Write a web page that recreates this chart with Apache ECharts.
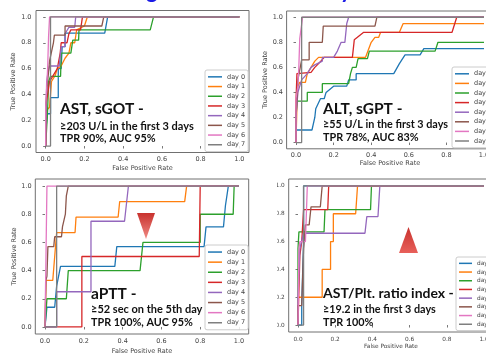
<!DOCTYPE html>
<html><head><meta charset="utf-8">
<script src="https://cdn.jsdelivr.net/npm/echarts@6/dist/echarts.min.js"></script>
<style>html,body{margin:0;padding:0;background:#fff}#c{width:486px;height:354px}</style>
</head><body><div id="c"></div>
<script>
const days = ['day 0','day 1','day 2','day 3','day 4','day 5','day 6','day 7'];
const daysU = ['day_0','day_1','day_2','day_3','day_4','day_5','day_6','day_7'];
const colors = ['#1f77b4','#ff7f0e','#2ca02c','#d62728','#9467bd','#8c564b','#e377c2','#7f7f7f'];
const ticks = [0,0.2,0.4,0.6,0.8,1.0];

// Panel 1: AST, sGOT
const astCurves = [
 [[0,0],[0,0.125],[0.01,0.125],[0.01,0.25],[0.025,0.25],[0.025,0.375],[0.065,0.375],[0.065,0.6],[0.08,0.6],[0.085,0.77],[0.1,0.77],[0.1,0.875],[0.305,0.875],[0.32,1],[1,1]],
 [[0,0],[0,0.27],[0.02,0.3],[0.03,0.5],[0.05,0.55],[0.06,0.6],[0.08,0.62],[0.1,0.68],[0.12,0.72],[0.13,0.8],[0.15,0.8],[0.16,0.9],[0.2,0.93],[0.215,1],[1,1]],
 [[0,0],[0.01,0.28],[0.015,0.5],[0.025,0.54],[0.077,0.54],[0.08,0.72],[0.13,0.72],[0.14,0.82],[0.17,0.82],[0.172,0.9],[0.54,0.9],[0.557,1],[1,1]],
 [[0,0],[0,0.3],[0.01,0.4],[0.02,0.5],[0.04,0.55],[0.06,0.6],[0.075,0.72],[0.08,0.8],[0.11,0.8],[0.12,0.87],[0.13,0.9],[0.18,0.9],[0.19,1],[1,1]],
 [[0,0],[0,0.1],[0.005,0.5],[0.01,0.55],[0.02,0.62],[0.07,0.62],[0.08,0.77],[0.1,0.77],[0.1,0.87],[0.12,0.92],[0.15,0.92],[0.155,1],[1,1]],
 [[0,0],[0,0.3],[0.01,0.5],[0.02,0.66],[0.03,0.73],[0.04,0.8],[0.045,0.86],[0.1,0.86],[0.1,0.93],[0.29,0.93],[0.3,1],[1,1]],
 [[0,0],[0,0.3],[0.01,0.6],[0.015,0.85],[0.02,1],[1,1]],
 [[0,0],[0.025,0],[0.025,1],[1,1]]
];
// Panel 2: ALT, sGPT
const altCurves = [
 [[0,0],[0,0.1],[0.085,0.1],[0.1,0.2],[0.105,0.27],[0.13,0.35],[0.15,0.35],[0.16,0.4],[0.2,0.45],[0.27,0.45],[0.28,0.5],[0.32,0.5],[0.32,0.55],[0.52,0.55],[0.55,0.63],[0.58,0.7],[0.66,0.7],[0.68,0.75],[1,0.75]],
 [[0,0],[0.005,0.3],[0.01,0.45],[0.02,0.48],[0.05,0.48],[0.06,0.55],[0.08,0.6],[0.1,0.65],[0.12,0.68],[0.37,0.68],[0.4,0.8],[0.42,0.84],[0.44,0.84],[0.45,0.88],[0.55,0.88],[0.57,0.95],[1,0.95]],
 [[0,0],[0,0.2],[0.005,0.33],[0.06,0.33],[0.06,0.4],[0.14,0.4],[0.14,0.47],[0.28,0.47],[0.29,0.55],[0.3,0.6],[0.32,0.6],[0.33,0.67],[0.38,0.67],[0.39,0.73],[0.74,0.73],[0.755,0.8],[1,0.8]],
 [[0,0],[0,0.33],[0.005,0.55],[0.08,0.56],[0.1,0.6],[0.12,0.63],[0.15,0.68],[0.3,0.68],[0.31,0.82],[0.36,0.88],[0.83,0.88],[0.855,1],[1,1]],
 [[0,0],[0,0.2],[0.01,0.4],[0.03,0.5],[0.06,0.55],[0.08,0.6],[0.1,0.62],[0.14,0.65],[0.14,0.68],[0.2,0.68],[0.22,0.73],[0.24,0.8],[0.26,0.8],[0.27,0.95],[0.28,1],[1,1]],
 [[0,0],[0,0.2],[0.01,0.5],[0.03,0.66],[0.07,0.66],[0.07,0.8],[0.14,0.8],[0.145,0.93],[0.42,0.93],[0.43,1],[1,1]],
 [[0,0],[0,0.35],[0.01,0.45],[0.015,0.6],[0.02,0.83],[0.03,0.83],[0.035,1],[1,1]],
 [[0,0],[0.03,0],[0.03,1],[1,1]]
];
// Panel 3: aPTT
const apttCurves = [
 [[0,0],[0.01,0.14],[0.05,0.14],[0.06,0.29],[0.07,0.29],[0.08,0.43],[0.36,0.43],[0.37,0.57],[0.82,0.57],[0.83,0.71],[0.92,0.71],[0.93,0.86],[0.94,0.86],[0.945,1],[1,1]],
 [[0,0],[0.005,0.33],[0.04,0.33],[0.05,0.5],[0.06,0.67],[0.155,0.67],[0.16,0.78],[0.377,0.78],[0.385,0.89],[0.72,0.89],[0.73,1],[1,1]],
 [[0,0],[0.01,0.2],[0.11,0.2],[0.12,0.4],[0.49,0.4],[0.505,0.6],[0.8,0.6],[0.8,0.8],[0.97,0.8],[0.975,1],[1,1]],
 [[0,0],[0.19,0],[0.19,0.5],[0.795,0.5],[0.8,1],[1,1]],
 [[0,0],[0.06,0],[0.06,0.25],[0.237,0.25],[0.237,0.75],[0.41,0.75],[0.43,1],[1,1]],
 [[0,0],[0.005,0.33],[0.01,0.36],[0.015,0.57],[0.045,0.57],[0.05,0.64],[0.085,0.64],[0.09,0.71],[0.1,0.71],[0.105,0.8],[0.11,0.93],[0.12,1],[1,1]],
 [[0,0],[0.01,0],[0.01,1],[1,1]],
 [[0,0],[0.06,0],[0.06,1],[1,1]]
];
// Panel 4: AST/Plt. ratio index
const apriCurves = [
 [[0,0],[0.02,0],[0.02,0.15],[0.03,0.6],[0.03,1],[1,1]],
 [[0,0],[0,0.2],[0.13,0.2],[0.13,0.4],[0.175,0.4],[0.175,0.6],[0.19,0.6],[0.19,0.8],[0.31,0.8],[0.32,1],[1,1]],
 [[0,0],[0,0.55],[0.005,0.67],[0.14,0.67],[0.145,0.83],[0.39,0.83],[0.395,1],[1,1]],
 [[0,0],[0.01,0.5],[0.02,0.6],[0.03,0.83],[0.16,0.83],[0.165,1],[1,1]],
 [[0,0],[0,0.2],[0.01,0.55],[0.03,0.66],[0.36,0.66],[0.37,0.78],[0.43,0.78],[0.44,1],[1,1]],
 [[0,0],[0,0.14],[0.02,0.14],[0.03,0.55],[0.04,0.72],[0.06,0.72],[0.07,0.85],[0.12,0.85],[0.13,1],[1,1]],
 [[0,0],[0.005,0.55],[0.01,0.6],[0.04,0.6],[0.05,1],[1,1]],
 [[0,0],[0.03,0],[0.03,1],[1,1]]
];

const panelTexts = [
 ['AST, sGOT -','≥203 U/L in the first 3 days','TPR 90%, AUC 95%'],
 ['ALT, sGPT -','≥55 U/L in the first 3 days','TPR 78%, AUC 83%'],
 ['aPTT -','≥52 sec on the 5th day','TPR 100%, AUC 95%'],
 ['AST/Plt. ratio index -','≥19.2 in the first 3 days','TPR 100%']
];

const chart = echarts.init(document.getElementById('c'), null, {renderer:'canvas'});

const panels = [
 {grid:{left:36, top:10.5, width:213, height:142}, fs:6.5, xm:3, xg:12, ym:4.5, yg:18.5, yname:true,
  legend:{left:205, top:70, lh:9.7, iw:14}, curves:astCurves, names:days,
  text:{x:60, y:[109,126,138.3], sizes:[15.5,11,10.8]}},
 {grid:{left:286.6, top:11, width:206.8, height:137.8}, fs:6.5, xm:2.7, xg:11, ym:3.6, yg:16.8, yname:true,
  legend:{left:452, top:67, lh:9.6, iw:14}, curves:altCurves, names:days,
  text:{x:323, y:[108.7,125,137.7], sizes:[15.5,10.8,10.8]}},
 {grid:{left:35.3, top:179, width:213.4, height:155}, fs:6.5, xm:4, xg:13.5, ym:3.6, yg:17.8, yname:true,
  legend:{left:205, top:245, lh:10.1, iw:14}, curves:apttCurves, names:days,
  text:{x:91, y:[293.7,309.7,322.7], sizes:[15.5,11,10.8]}},
 {grid:{left:288.7, top:179, width:204.6, height:153}, fs:5.8, xm:4.5, xg:11, ym:4, yg:16, yname:false,
  legend:{left:456, top:257, lh:8.7, iw:13}, curves:apriCurves, names:daysU,
  text:{x:323, y:[293.7,309.3,322.7], sizes:[14,10.8,10.8]}}
];

const grids = [], xAxes = [], yAxes = [], series = [], legends = [], graphics = [];
const axisFont = 'DejaVu Sans';
panels.forEach((p, i) => {
  grids.push(Object.assign({show:true, borderColor:'#707070', borderWidth:1, backgroundColor:'transparent',
    containLabel:false, outerBoundsMode:'none'}, p.grid));
  xAxes.push({type:'value', gridIndex:i, min:-0.05, max:1.05,
    axisLine:{show:false}, splitLine:{show:false},
    axisTick:{show:true, customValues:ticks, length:2.5, lineStyle:{color:'#555', width:0.8}},
    axisLabel:{customValues:ticks, formatter:v=>v.toFixed(1), fontSize:p.fs, color:'#444', margin:p.xm, fontFamily:axisFont},
    name:'False Positive Rate', nameLocation:'middle', nameGap:p.xg,
    nameTextStyle:{fontSize:p.fs, color:'#444', fontFamily:axisFont}});
  yAxes.push({type:'value', gridIndex:i, min:-0.05, max:1.05,
    axisLine:{show:false}, splitLine:{show:false},
    axisTick:{show:true, customValues:ticks, length:2.5, lineStyle:{color:'#555', width:0.8}},
    axisLabel:{customValues:ticks, formatter:v=>v.toFixed(1), fontSize:p.fs, color:'#444', margin:p.ym, fontFamily:axisFont},
    name:p.yname ? 'True Positive Rate' : '', nameLocation:'middle', nameGap:p.yg, nameRotate:90,
    nameTextStyle:{fontSize:p.fs, color:'#444', fontFamily:axisFont}});
  p.curves.forEach((d, k) => {
    series.push({type:'line', name:p.names[k], xAxisIndex:i, yAxisIndex:i, data:d,
      symbol:'none', showSymbol:false, animation:false, silent:true, clip:true,
      lineStyle:{width:1.3, color:colors[k]}, itemStyle:{color:colors[k]}, z:2+k*0.01});
  });
  legends.push({left:p.legend.left, top:p.legend.top, orient:'vertical', data:p.names, icon:'rect',
    itemWidth:p.legend.iw, itemHeight:1.5, itemGap:0, padding:[2,3,2,3], selectedMode:false,
    itemStyle:{borderWidth:0},
    textStyle:{fontSize:p.fs, lineHeight:p.legend.lh, color:'#444', fontFamily:axisFont},
    backgroundColor:'rgba(255,255,255,0.85)', borderColor:'#cccccc', borderWidth:1, borderRadius:2});
  const t = panelTexts[i];
  t.forEach((s, j) => {
    graphics.push({type:'text', x:p.text.x, y:p.text.y[j], z:100,
      style:{text:s, fontSize:p.text.sizes[j], fontWeight:'bold', fontFamily:'Lato', fill:'#111', align:'left', verticalAlign:'middle'}});
  });
});

// cover that clips the left part of the lower-right panel
graphics.push({type:'rect', shape:{x:251, y:177, width:26, height:177}, style:{fill:'#fff'}, z:120});
// triangles
graphics.push({type:'polygon', shape:{points:[[137,213],[155,213],[146,239]]}, z:100,
  style:{fill:new echarts.graphic.LinearGradient(0,0,0,1,[{offset:0,color:'#c8322e'},{offset:1,color:'#f08a84'}])}});
graphics.push({type:'polygon', shape:{points:[[408.5,227],[399,253],[418,253]]}, z:100,
  style:{fill:new echarts.graphic.LinearGradient(0,0,0,1,[{offset:0,color:'#c8322e'},{offset:1,color:'#e8605a'}])}});
// cut-off blue title descenders
graphics.push({type:'text', x:146, y:-9, z:100, style:{text:'g', fontSize:22, fontWeight:'bold', fontFamily:'Lato', fill:'#1a1ae6', align:'left', verticalAlign:'middle'}});
graphics.push({type:'text', x:340, y:-9, z:100, style:{text:'y', fontSize:22, fontWeight:'bold', fontFamily:'Lato', fill:'#1a1ae6', align:'left', verticalAlign:'middle'}});

chart.setOption({
  animation:false,
  backgroundColor:'#fff',
  grid:grids, xAxis:xAxes, yAxis:yAxes, series:series, legend:legends, graphic:graphics
});
</script></body></html>
